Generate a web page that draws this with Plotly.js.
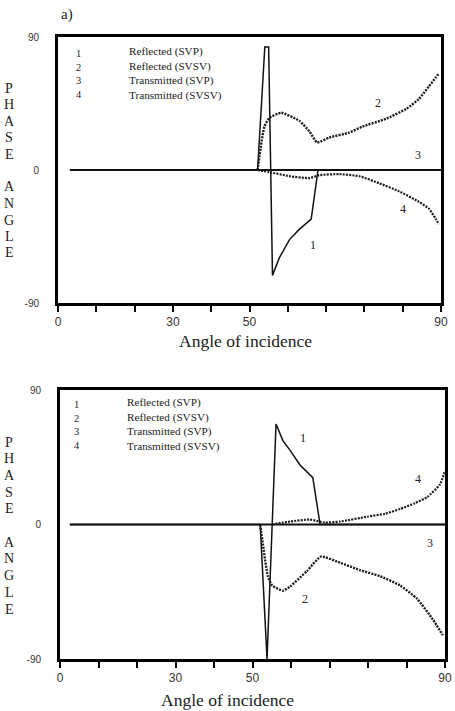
<!DOCTYPE html>
<html>
<head>
<meta charset="utf-8">
<script src="https://cdn.plot.ly/plotly-3.0.1.min.js"></script>
<style>
  html, body { margin: 0; padding: 0; background: #fff; }
  #chart { width: 455px; height: 711px; }
</style>
</head>
<body>
<div id="chart"></div>
<script>
// ---- Panel a): phase angle vs angle of incidence ----
// 1 Reflected (SVP)
const aReflSvpX = [2.8, 46.9, 48.6, 49.5, 50.4, 52.0, 54.4, 56.7, 59.5, 61.1, 90];
const aReflSvpY = [0, 0, 83.3, 83.3, -71.3, -59.5, -47.1, -40.2, -33.2, 0, 0];
// 2 Reflected (SVSV)
const aReflSvsvX = [46.9, 48.5, 49.7, 52.5, 56.7, 59.1, 60.9, 63.8, 68.4, 71.5, 77.1, 81.8, 84.8, 87.2, 88.8, 89.5];
const aReflSvsvY = [0, 29.3, 35.3, 38.7, 33.3, 26.0, 18.7, 22.0, 25.3, 29.3, 34.7, 41.3, 48.0, 56.7, 62.7, 65.3];
// 3 Transmitted (SVP)
const aTranSvpX = [2.8, 90];
const aTranSvpY = [0, 0];
// 4 Transmitted (SVSV)
const aTranSvsvX = [46.9, 49.7, 54.4, 59.1, 61.4, 66.1, 70.8, 75.5, 80.2, 84.8, 87.2, 88.8, 89.5];
const aTranSvsvY = [0, -1.4, -4.2, -5.5, -3.5, -2.8, -4.2, -9.0, -14.5, -21.5, -26.3, -33.2, -36.7];

// ---- Lower panel ----
const bReflSvpX = [2.3, 46.8, 48.4, 50.5, 52.1, 53.8, 56.1, 59.1, 60.8, 90];
const bReflSvpY = [0, 0, -90, 67.2, 56.1, 49.6, 39.8, 31.3, 0, 0];
const bReflSvsvX = [46.8, 48.6, 49.6, 52.1, 53.8, 57.7, 61.0, 65.5, 70.1, 74.8, 79.5, 83.5, 87.2, 89.5];
const bReflSvsvY = [0, -34.6, -40.8, -44.3, -41.5, -31.2, -21.5, -25.6, -30.5, -34.6, -40.8, -49.8, -63.7, -74.1];
const bTranSvpX = [2.3, 90];
const bTranSvpY = [0, 0];
const bTranSvsvX = [49.6, 53.8, 58.4, 61.9, 65.5, 71.8, 76.0, 79.5, 83.0, 85.8, 88.8, 90];
const bTranSvsvY = [0, 2.0, 3.3, 1.3, 2.0, 5.2, 7.2, 10.4, 14.3, 18.3, 26.7, 35.9];

// Axis ticks: eleven marks, only some of them labelled
const xTickVals = [0, 9, 18, 27, 36, 45, 54, 63, 72, 81, 90];
const xTickText = ['0', '', '', '30', '', '50', '', '', '', '', '90'];
const yTickVals = [-90, 0, 90];
const yTickText = ['-90', '0', '90'];

const legendNums = ['1', '2', '3', '4'];
const legendNames = ['Reflected (SVP)', 'Reflected (SVSV)', 'Transmitted (SVP)', 'Transmitted (SVSV)'];
const phaseLetters = ['P', 'H', 'A', 'S', 'E', '', 'A', 'N', 'G', 'L', 'E'];

const W = 455, H = 711;
const px = v => v / W;
const py = v => 1 - v / H;

const solid = w => ({ color: '#111', width: w, shape: 'linear' });
const dotted = w => ({ color: '#1a1a1a', width: w, dash: '2px,1.2px', shape: 'spline', smoothing: 0.5 });

function tr(x, y, line, xa, ya) {
  return { x, y, mode: 'lines', line, xaxis: xa, yaxis: ya, hoverinfo: 'skip', showlegend: false };
}

const traces = [
  tr(aTranSvpX, aTranSvpY, solid(2), 'x', 'y'),
  tr(aReflSvpX, aReflSvpY, solid(1.5), 'x', 'y'),
  tr(aReflSvsvX, aReflSvsvY, dotted(2.4), 'x', 'y'),
  tr(aTranSvsvX, aTranSvsvY, dotted(2.2), 'x', 'y'),
  tr(bTranSvpX, bTranSvpY, solid(2), 'x2', 'y2'),
  tr(bReflSvpX, bReflSvpY, solid(1.5), 'x2', 'y2'),
  tr(bReflSvsvX, bReflSvsvY, dotted(2.4), 'x2', 'y2'),
  tr(bTranSvsvX, bTranSvsvY, dotted(2.2), 'x2', 'y2')
];

const serif = 'Liberation Serif, Times New Roman, serif';
const sans = 'Liberation Sans, Arial, sans-serif';

function xAxis(domain, anchor) {
  return {
    domain, anchor, range: [0, 90], showgrid: false, zeroline: false,
    showline: true, linewidth: 3, linecolor: '#000', mirror: true,
    ticks: 'outside', ticklen: 6, tickwidth: 2, tickcolor: '#000',
    tickmode: 'array', tickvals: xTickVals, ticktext: xTickText,
    tickfont: { family: sans, size: 12, color: '#333' }, fixedrange: true
  };
}
function yAxis(domain, anchor) {
  return {
    domain, anchor, range: [-90, 90], showgrid: false, zeroline: false,
    showline: true, linewidth: 3, linecolor: '#000', mirror: true,
    ticks: '', tickmode: 'array', tickvals: yTickVals, ticktext: yTickText,
    ticklabelstandoff: 14,
    tickfont: { family: sans, size: 10, color: '#333' }, fixedrange: true
  };
}

function note(text, x, y, size, opts) {
  return Object.assign({
    text, x: px(x), y: py(y), xref: 'paper', yref: 'paper',
    showarrow: false, xanchor: 'center', yanchor: 'middle',
    font: { family: serif, size, color: '#222' }
  }, opts || {});
}

// Vertical "PHASE ANGLE" caption, one letter per row
function phaseCaption(top, step) {
  return phaseLetters
    .map((ch, i) => ch ? note(ch, 9, top + i * step, 14) : null)
    .filter(Boolean);
}

const annotations = [
  note('a)', 67, 15, 15),
  note('Angle of incidence', 245, 341, 17.5),
  note('Angle of incidence', 227, 700, 17.5),
  ...phaseCaption(88, 16.5),
  ...phaseCaption(442, 16.7),
  note(legendNums.join('<br>'), 79, 74, 10.4, { align: 'center' }),
  note(legendNames.join('<br>'), 127, 74, 11.2, { xanchor: 'left', align: 'left', font: { family: serif, size: 11.2, color: '#222' } }),
  note(legendNums.join('<br>'), 77, 424.5, 10.4, { align: 'center' }),
  note(legendNames.join('<br>'), 125, 424.5, 11.2, { xanchor: 'left', align: 'left' }),
  // curve numbers, upper panel
  note('2', 378, 103, 12),
  note('3', 418, 155, 12),
  note('4', 403, 209, 12),
  note('1', 313, 245, 12),
  // curve numbers, lower panel
  note('1', 303, 438, 12),
  note('4', 418, 479, 12),
  note('3', 430, 543, 12),
  note('2', 305, 599, 12)
];

const layout = {
  width: W, height: H,
  margin: { l: 0, r: 0, t: 0, b: 0, pad: 0 },
  paper_bgcolor: '#fff', plot_bgcolor: '#fff',
  showlegend: false,
  xaxis: xAxis([px(58), px(441)], 'y'),
  yaxis: yAxis([py(303), py(37)], 'x'),
  xaxis2: xAxis([px(60), px(445)], 'y2'),
  yaxis2: yAxis([py(659), py(390)], 'x2'),
  annotations
};

Plotly.newPlot('chart', traces, layout, { staticPlot: true, displayModeBar: false });
</script>
</body>
</html>
